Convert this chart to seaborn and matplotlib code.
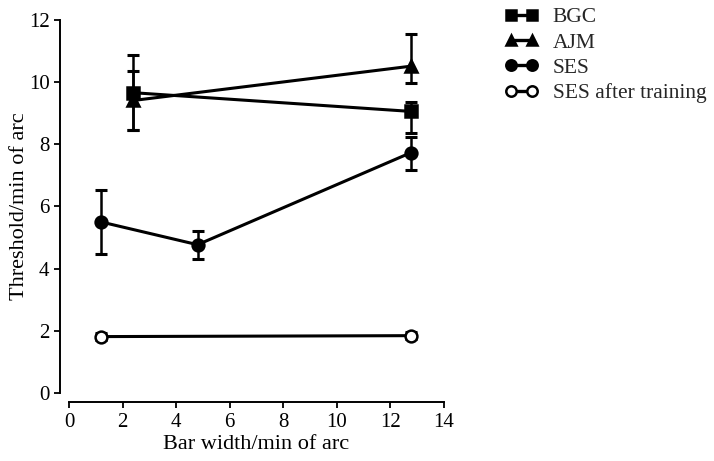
import pandas as pd
import seaborn as sns
import matplotlib.pyplot as plt

# values
subjects = ['BGC', 'AJM', 'SES', 'SES after training']

bgc_width = [2.4, 12.75]
bgc_thresh = [9.65, 9.05]
bgc_err_lo = [1.2, 0.7]
bgc_err_hi = [1.2, 0.3]

ajm_width = [2.4, 12.75]
ajm_thresh = [9.4, 10.5]
ajm_err_lo = [0.95, 0.53]
ajm_err_hi = [0.95, 1.03]

ses_width = [1.2, 4.8, 12.75]
ses_thresh = [5.5, 4.77, 7.72]
ses_err_lo = [1.02, 0.45, 0.55]
ses_err_hi = [1.02, 0.44, 0.5]

sest_width = [1.2, 12.75]
sest_thresh = [1.82, 1.85]
sest_err_lo = [0.12, 0.12]
sest_err_hi = [0.12, 0.12]

x_ticks = [0, 2, 4, 6, 8, 10, 12, 14]
y_ticks = [0, 2, 4, 6, 8, 10, 12]


def main():
    sns.set_theme(style='ticks')
    plt.rcParams['font.family'] = ['Liberation Serif', 'DejaVu Serif']

    fig = plt.figure(figsize=(7.14, 4.61), dpi=100)
    ax = fig.add_axes([0.0966, 0.1469, 0.5253, 0.8108])

    series = [
        (subjects[0], bgc_width, bgc_thresh, bgc_err_lo, bgc_err_hi, 's', 'black'),
        (subjects[1], ajm_width, ajm_thresh, ajm_err_lo, ajm_err_hi, '^', 'black'),
        (subjects[2], ses_width, ses_thresh, ses_err_lo, ses_err_hi, 'o', 'black'),
        (subjects[3], sest_width, sest_thresh, sest_err_lo, sest_err_hi, 'o', 'white'),
    ]

    handles = []
    for name, xs, ys, lo, hi, mk, face in series:
        df = pd.DataFrame({'width': xs, 'thresh': ys})
        ax.errorbar(df['width'], df['thresh'], yerr=[lo, hi], fmt='none',
                    ecolor='black', elinewidth=1.8, capsize=4.3,
                    capthick=2.2, zorder=2, clip_on=False)
        sns.lineplot(data=df, x='width', y='thresh', ax=ax, color='black',
                     linewidth=2.2, marker=mk, markersize=8.5,
                     markerfacecolor=face, markeredgecolor='black',
                     markeredgewidth=1.8, label=name, legend=False,
                     zorder=3, clip_on=False)
        handles.append(ax.lines[-1])

    ax.set_xlim(0, 14)
    ax.set_ylim(0, 12)
    ax.set_xticks(x_ticks)
    ax.set_yticks(y_ticks)
    ax.tick_params(labelsize=15, length=4, width=1.3, color='black',
                   labelcolor='black', pad=3.5)

    for side in ['top', 'right']:
        ax.spines[side].set_visible(False)
    ax.spines['left'].set_position(('outward', 6.5))
    ax.spines['bottom'].set_position(('outward', 6.5))
    for side in ['left', 'bottom']:
        ax.spines[side].set_color('black')
        ax.spines[side].set_linewidth(1.4)

    ax.set_xlabel('Bar width/min of arc', fontsize=16, color='black',
                  labelpad=2)
    ax.set_ylabel('Threshold/min of arc', fontsize=16, color='black',
                  labelpad=0)

    leg = fig.legend(handles, subjects, loc='upper left',
                     bbox_to_anchor=(0.688, 1.012), frameon=False,
                     numpoints=2, handlelength=1.6, handletextpad=0.65,
                     labelspacing=0.24, fontsize=15.5, borderaxespad=0.2)
    for line in leg.get_lines():
        line.set_markersize(7.5)
        line.set_linewidth(2.4)

    fig.savefig('out.png', dpi=100, facecolor='white')


if __name__ == '__main__':
    main()
